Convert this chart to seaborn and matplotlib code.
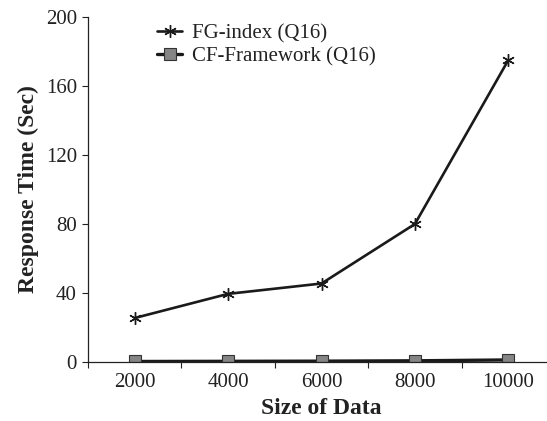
import matplotlib
matplotlib.use("Agg")
import matplotlib.pyplot as plt
import seaborn as sns
import pandas as pd
import numpy as np

sizes = ["2000", "4000", "6000", "8000", "10000"]
fg_index = [25.5, 39.5, 45.5, 80.0, 175.0]
cf_framework = [0.3, 0.4, 0.5, 0.7, 1.2]
series_names = ["FG-index (Q16)", "CF-Framework (Q16)"]

sns.set_theme(style="white")
plt.rcParams["font.family"] = ["Liberation Serif", "DejaVu Serif"]

df = pd.DataFrame({
    "pos": list(range(len(sizes))) * 2,
    "value": fg_index + cf_framework,
    "series": [series_names[0]] * len(sizes) + [series_names[1]] * len(sizes),
})

W, H = 547, 421
fig = plt.figure(figsize=(W / 100, H / 100), dpi=100)
# axes extends slightly past right edge (cropped reference)
ax = fig.add_axes([88 / W, (H - 362) / H, (555 - 88) / W, (362 - 17) / H])

ink = "#1a1a1a"
sns.lineplot(data=df[df.series == series_names[0]], x="pos", y="value", ax=ax,
             color=ink, linewidth=1.9, marker=(6, 2, 0), markersize=9,
             markeredgewidth=1.0, markeredgecolor=ink, label=series_names[0])
sns.lineplot(data=df[df.series == series_names[1]], x="pos", y="value", ax=ax,
             color=ink, linewidth=2.4, marker="s", markersize=8,
             markerfacecolor="#858585", markeredgecolor="#333333",
             markeredgewidth=0.8, label=series_names[1])

ax.set_xlim(-0.5, len(sizes) - 0.5)
ax.set_ylim(0, 200)
ax.set_yticks([0, 40, 80, 120, 160, 200])
ax.set_xticks(range(len(sizes)))
ax.set_xticklabels(sizes)
ax.set_xticks(np.arange(-0.5, len(sizes), 1.0), minor=True)
ax.tick_params(axis="x", which="major", length=0, labelsize=15, pad=8, colors="#222222")
ax.tick_params(axis="x", which="minor", length=4, width=0.8, direction="out", bottom=True, color="#222222")
ax.tick_params(axis="y", length=4, width=0.8, direction="out", left=True, labelsize=15, pad=4, colors="#222222")
for s in ["top", "right"]:
    ax.spines[s].set_visible(False)
for s in ["left", "bottom"]:
    ax.spines[s].set_color("#222222")
    ax.spines[s].set_linewidth(0.9)
ax.set_xlabel("Size of Data", fontsize=17, fontweight="bold", color="#222222", labelpad=4)
ax.set_ylabel("Response Time (Sec)", fontsize=17, fontweight="bold", color="#222222", labelpad=5)

leg = ax.legend(loc="upper left", bbox_to_anchor=(147 / W, 1 - 13 / H),
                bbox_transform=fig.transFigure, frameon=False, borderpad=0,
                fontsize=15, handlelength=1.2, handletextpad=0.45, labelspacing=0.2)
for t in leg.get_texts():
    t.set_color("#222222")

fig.savefig("out.png", dpi=100)
